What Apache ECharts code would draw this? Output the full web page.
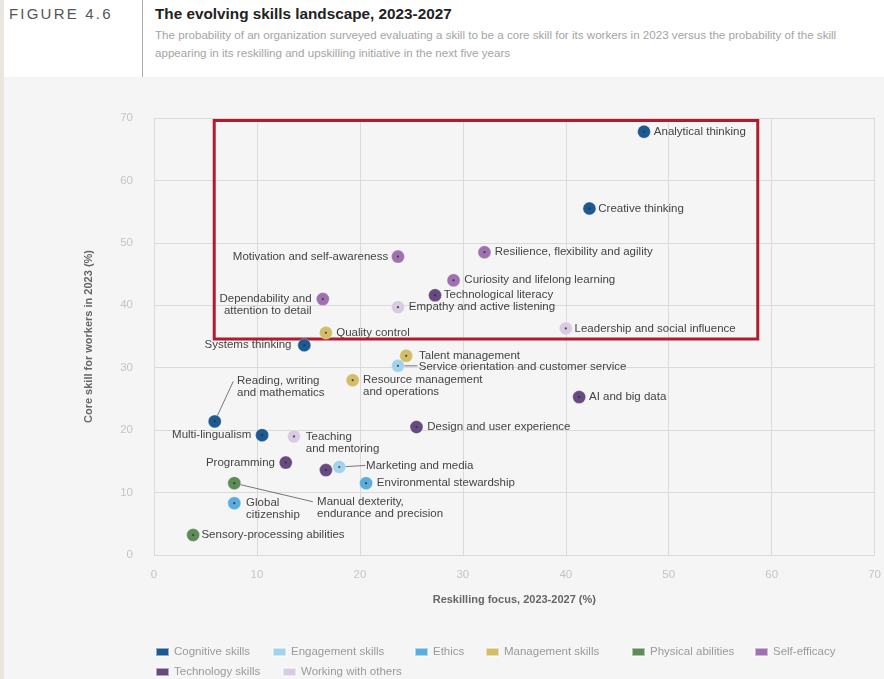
<!DOCTYPE html>
<html><head><meta charset="utf-8">
<script src="https://cdn.jsdelivr.net/npm/echarts@6/dist/echarts.min.js"></script>
<style>
html,body{margin:0;padding:0;width:884px;height:679px;overflow:hidden;background:#f5f5f5;font-family:"Liberation Sans",Arial,sans-serif;}
#chart{position:absolute;left:0;top:0;width:884px;height:679px;}
#header{position:absolute;left:4px;top:0;width:880px;height:77px;background:#fff;z-index:2;}
#strip{position:absolute;left:0;top:0;width:4px;height:679px;background:#e8e6de;z-index:3;}
#fig{position:absolute;left:5px;top:5px;font-size:15px;letter-spacing:2.2px;color:#555;white-space:nowrap;}
#divider{position:absolute;left:138px;top:0;width:1px;height:77px;background:#aaa;}
#title{position:absolute;left:151px;top:5px;font-size:15.3px;font-weight:bold;color:#222;white-space:nowrap;}
#sub{position:absolute;left:151px;top:26px;font-size:11.6px;line-height:18px;color:#a4a4a4;white-space:nowrap;}
</style></head>
<body>
<div id="chart"></div>
<div id="strip"></div>
<div id="header">
  <div id="fig">FIGURE 4.6</div>
  <div id="divider"></div>
  <div id="title">The evolving skills landscape, 2023-2027</div>
  <div id="sub">The probability of an organization surveyed evaluating a skill to be a core skill for its workers in 2023 versus the probability of the skill<br>appearing in its reskilling and upskilling initiative in the next five years</div>
</div>
<script>
// ---- data ----
const categories = ["Cognitive skills","Engagement skills","Ethics","Management skills","Physical abilities","Self-efficacy","Technology skills","Working with others"];
const skills = [
  "Analytical thinking","Creative thinking","Resilience, flexibility and agility","Motivation and self-awareness",
  "Curiosity and lifelong learning","Technological literacy","Dependability and\nattention to detail","Empathy and active listening",
  "Leadership and social influence","Quality control","Systems thinking","Talent management",
  "Service orientation and customer service","Resource management\nand operations","AI and big data","Design and user experience",
  "Reading, writing\nand mathematics","Multi-lingualism","Teaching\nand mentoring","Programming",
  "Networks and cybersecurity","Marketing and media","Environmental stewardship","Manual dexterity,\nendurance and precision",
  "Global\ncitizenship","Sensory-processing abilities"
];
const reskilling = [47.6,42.3,32.1,23.7,29.1,27.3,16.4,23.7,40.0,16.7,14.6,24.5,23.7,19.3,41.3,25.5,5.9,10.5,13.6,12.8,16.7,18.0,20.6,7.8,7.8,3.8];
const core =       [67.8,55.5,48.5,47.8,44.0,41.6,41.0,39.7,36.3,35.6,33.6,31.9,30.3,28.0,25.3,20.5,21.4,19.2,19.0,14.8,13.6,14.1,11.5,11.5,8.3,3.2];
const skillGroup = [0,0,5,5,5,6,5,7,7,3,0,3,1,3,6,6,0,0,7,6,6,1,2,4,2,4];
const hiddenLabels = ["Networks and cybersecurity"];
const xTicks = [0,10,20,30,40,50,60,70];
const yTicks = [0,10,20,30,40,50,60,70];
const focusBox = [[5.85,69.6],[58.65,34.6]];

// ---- styles ----
const colors = ["#1d5a92","#a3d2ee","#5badde","#d2bd68","#5e8c58","#a071b0","#674a80","#dacbe2"];
const labelCfg = { // [position, distance, offsetX, offsetY]
  "Analytical thinking":["right",3,0,0],
  "Creative thinking":["right",2,0,0],
  "Resilience, flexibility and agility":["right",3.5,0,0],
  "Motivation and self-awareness":["left",3,0,0],
  "Curiosity and lifelong learning":["right",4,0,0],
  "Technological literacy":["right",2,0,0],
  "Dependability and\nattention to detail":["left",4.5,0,5.5],
  "Empathy and active listening":["right",4,0,0],
  "Leadership and social influence":["right",2,0,0],
  "Quality control":["right",3.5,0,0],
  "Systems thinking":["left",6,0,0],
  "Talent management":["right",6,0,0],
  "Service orientation and customer service":["right",14,0,0.5],
  "Resource management\nand operations":["right",3.5,0,6],
  "AI and big data":["right",3,0,0],
  "Design and user experience":["right",4,0,0],
  "Reading, writing\nand mathematics":["right",0,15.5,-35],
  "Multi-lingualism":["left",4,0,0],
  "Teaching\nand mentoring":["right",5,0,6],
  "Programming":["left",4,0,0],
  "Marketing and media":["right",20,0,-1.5],
  "Environmental stewardship":["right",4,0,0],
  "Manual dexterity,\nendurance and precision":["right",0,76,25],
  "Global\ncitizenship":["right",5,0,6],
  "Sensory-processing abilities":["right",1.5,0,0]
};
const leaderEnds = { // pixel offset of leader line end from point centre
  "Reading, writing\nand mathematics":[18.5,-40],
  "Service orientation and customer service":[19.5,0],
  "Marketing and media":[26,-1.5],
  "Manual dexterity,\nendurance and precision":[78.5,18.5]
};
const legendPos = [[155,646],[272,646],[414,646],[485,646],[631,646],[754,646],[155,666],[282,666]];
const FONT = '"Liberation Sans", Arial, sans-serif';

const chart = echarts.init(document.getElementById('chart'), null, {renderer:'canvas'});

const series = categories.map((cat, ci) => ({
  name: cat,
  type: 'scatter',
  symbolSize: 13,
  z: 3,
  itemStyle: {color: colors[ci], opacity: 1, borderColor: 'rgba(255,255,255,0.5)', borderWidth: 0.6},
  emphasis: {disabled: true},
  label: {show: true, color: '#444', fontSize: 11.5, fontFamily: FONT, lineHeight: 12},
  data: skills.map((s, i) => i).filter(i => skillGroup[i] === ci).map(i => {
    const s = skills[i];
    const c = labelCfg[s];
    const show = !!c && hiddenLabels.indexOf(s) < 0;
    return {
      name: s,
      value: [reskilling[i], core[i]],
      label: show ? {show: true, position: c[0], distance: c[1], offset: [c[2], c[3]], formatter: s} : {show: false}
    };
  })
}));

// red focus rectangle
series[0].markArea = {
  silent: true,
  itemStyle: {color: 'rgba(0,0,0,0)', borderColor: '#b21a2e', borderWidth: 3},
  data: [[{coord: focusBox[0]}, {coord: focusBox[1]}]]
};

// centre dots
series.push({
  name: 'dots', type: 'scatter', symbolSize: 2.2, z: 4, silent: true,
  itemStyle: {color: '#2a2a2a'},
  data: skills.map((s, i) => [reskilling[i], core[i]])
});

// leader lines
const leaderIdx = skills.map((s, i) => i).filter(i => leaderEnds[skills[i]]);
series.push({
  name: 'leaders', type: 'custom', z: 1, silent: true,
  data: leaderIdx.map(i => [reskilling[i], core[i], i]),
  renderItem: (params, api) => {
    const p = api.coord([api.value(0), api.value(1)]);
    const d = leaderEnds[skills[api.value(2)]];
    return {type: 'line', shape: {x1: p[0], y1: p[1], x2: p[0] + d[0], y2: p[1] + d[1]},
            style: {stroke: '#555', lineWidth: 0.8}};
  }
});

chart.setOption({
  backgroundColor: '#f5f5f5',
  animation: false,
  textStyle: {fontFamily: FONT},
  grid: {left: 154, right: 9, top: 118, bottom: 124},
  legend: categories.map((c, i) => ({
    data: [c], left: legendPos[i][0], top: legendPos[i][1], padding: 0,
    itemWidth: 13, itemHeight: 8, icon: 'rect', selectedMode: false,
    textStyle: {color: '#9a9a9a', fontSize: 11.5, fontFamily: FONT}
  })),
  xAxis: {
    type: 'value', min: xTicks[0], max: xTicks[xTicks.length - 1], interval: xTicks[1] - xTicks[0],
    name: 'Reskilling focus, 2023-2027 (%)', nameLocation: 'middle', nameGap: 39,
    nameTextStyle: {fontWeight: 'bold', color: '#666', fontSize: 11, fontFamily: FONT},
    axisLine: {show: false}, axisTick: {show: false},
    axisLabel: {color: '#c4c4c4', fontSize: 11.5, margin: 14, fontFamily: FONT},
    splitLine: {show: true, lineStyle: {color: '#dadada', width: 1}}
  },
  yAxis: {
    type: 'value', min: yTicks[0], max: yTicks[yTicks.length - 1], interval: yTicks[1] - yTicks[0],
    name: 'Core skill for workers in 2023 (%)', nameLocation: 'middle', nameGap: 60,
    nameTextStyle: {fontWeight: 'bold', color: '#666', fontSize: 11, fontFamily: FONT},
    axisLine: {show: false}, axisTick: {show: false},
    axisLabel: {color: '#c4c4c4', fontSize: 11.5, margin: 21, fontFamily: FONT},
    splitLine: {show: true, lineStyle: {color: '#dadada', width: 1}}
  },
  series: series
});
</script>
</body></html>
